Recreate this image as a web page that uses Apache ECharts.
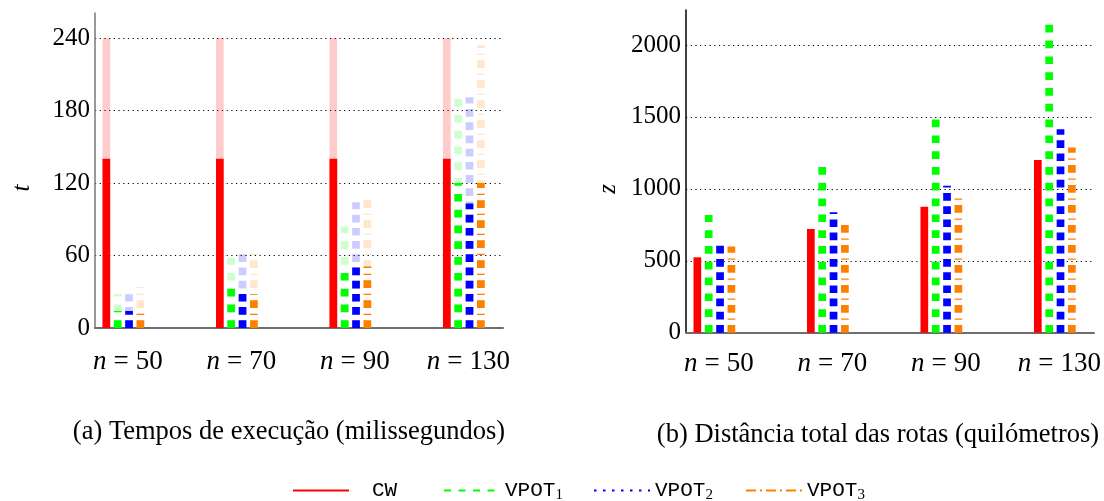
<!DOCTYPE html>
<html>
<head>
<meta charset="utf-8">
<script src="https://cdn.jsdelivr.net/npm/echarts@6/dist/echarts.min.js"></script>
<style>
  html, body { margin: 0; padding: 0; background: #ffffff; }
  #chart { width: 1104px; height: 501px; }
</style>
</head>
<body>
<div id="chart"></div>
<script>
// Instance sizes (number of customers)
const categories = ['50', '70', '90', '130'];
const methods = ['CW', 'VPOT1', 'VPOT2', 'VPOT3'];

// Execution times (ms): mean and maximum per instance size
const timeMeanCW    = [140, 140, 140, 140];
const timeMaxCW     = [240, 240, 240, 240];
const timeMeanVPOT1 = [14, 33, 47, 120];
const timeMaxVPOT1  = [28, 58, 84, 191];
const timeMeanVPOT2 = [14, 29, 50, 103];
const timeMaxVPOT2  = [28, 62, 104, 191];
const timeMeanVPOT3 = [13, 28, 51, 120];
const timeMaxVPOT3  = [34, 66, 110, 234];

// Total route distance (km) per instance size
const distCW    = [524, 721, 876, 1201];
const distVPOT1 = [818, 1161, 1495, 2158];
const distVPOT2 = [605, 837, 1022, 1414];
const distVPOT3 = [600, 784, 957, 1287];

// Tick labels
const timeTicks = [0, 60, 120, 180, 240];
const distTicks = [0, 500, 1000, 1500, 2000];

const timeMean = [timeMeanCW, timeMeanVPOT1, timeMeanVPOT2, timeMeanVPOT3];
const timeMax  = [timeMaxCW, timeMaxVPOT1, timeMaxVPOT2, timeMaxVPOT3];
const dist     = [distCW, distVPOT1, distVPOT2, distVPOT3];

// Styles per method: colour, bar dash pattern, legend dash pattern
const colors = ['#ff0000', '#00ff00', '#0000ff', '#ff8000'];
const barDash = [null, [7.7, 8.1], [7.7, 5.5], [7.7, 5.3, 1.2, 5.8]];
const legendDash = [null, [7, 7.5], [2.5, 6.5], [10, 4, 2, 4]];
const barOffset = [-0.15, -0.05, 0.05, 0.15];
const barWidth = 7.7;
const legendLeft = [292, 443, 593, 745];

const serif = '"Liberation Serif", "Times New Roman", serif';
const mono = '"Liberation Mono", "DejaVu Sans Mono", monospace';

function dashedBar(k, opacity) {
  return function (params, api) {
    const x = api.value(0) + barOffset[k];
    const p0 = api.coord([x, 0]);
    const p1 = api.coord([x, api.value(1)]);
    return {
      type: 'line',
      silent: true,
      shape: { x1: p0[0], y1: p0[1], x2: p1[0], y2: p1[1] },
      style: {
        stroke: colors[k],
        lineWidth: barWidth,
        lineDash: barDash[k],
        lineCap: 'butt',
        opacity: opacity
      }
    };
  };
}

function toPairs(values) {
  return values.map((v, i) => [i, v]);
}

const series = [];
// Panel (a): light bars up to the maximum, solid bars up to the mean
methods.forEach((m, k) => {
  series.push({
    type: 'custom', name: m + ' max', xAxisIndex: 0, yAxisIndex: 0,
    renderItem: dashedBar(k, 0.2), data: toPairs(timeMax[k]), z: 2
  });
  series.push({
    type: 'custom', name: m + ' mean', xAxisIndex: 0, yAxisIndex: 0,
    renderItem: dashedBar(k, 1), data: toPairs(timeMean[k]), z: 3
  });
});
// Panel (b): total distance
methods.forEach((m, k) => {
  series.push({
    type: 'custom', name: m + ' dist', xAxisIndex: 1, yAxisIndex: 1,
    renderItem: dashedBar(k, 1), data: toPairs(dist[k]), z: 3
  });
});
// Line entries used by the legend
methods.forEach((m, k) => {
  series.push({
    type: 'line', name: m, xAxisIndex: 0, yAxisIndex: 0, data: [],
    symbol: 'none',
    itemStyle: { color: colors[k] },
    lineStyle: { color: colors[k], width: 2.5, type: legendDash[k] || 'solid' }
  });
});

function xAxisFor(g, margin) {
  return {
    type: 'value', gridIndex: g, min: -0.25, max: 3.345,
    axisLine: { onZero: false, lineStyle: { color: '#6e6e6e', width: 2 } },
    axisTick: { show: false },
    splitLine: { show: false },
    axisLabel: {
      customValues: [0, 1, 2, 3],
      margin: margin,
      formatter: v => '{i|n}{e|=}{r|' + categories[Math.round(v)] + '}',
      rich: {
        i: { fontFamily: serif, fontStyle: 'italic', fontSize: 27, color: '#000', padding: [0, 0, 0, 9] },
        e: { fontFamily: serif, fontSize: 27, color: '#000', padding: [0, 7, 0, 7] },
        r: { fontFamily: serif, fontSize: 27, color: '#000' }
      }
    }
  };
}

function yAxisFor(g, max, interval, ticks, lineColor) {
  return {
    type: 'value', gridIndex: g, min: 0, max: max, interval: interval,
    axisLine: { show: true, onZero: false, lineStyle: { color: lineColor, width: 1.5 } },
    axisTick: { show: false },
    axisLabel: {
      customValues: ticks,
      margin: 5,
      formatter: v => String(v),
      fontFamily: serif, fontSize: 25, color: '#000'
    },
    splitLine: {
      show: true, showMinLine: false, showMaxLine: false,
      lineStyle: { color: '#000', width: 1, type: [1.2, 3.5] }
    }
  };
}

const option = {
  animation: false,
  backgroundColor: '#ffffff',
  grid: [
    { left: 95, top: 13, width: 408, height: 315 },
    { left: 686, top: 10, width: 408, height: 322.7 }
  ],
  xAxis: [xAxisFor(0, 20), xAxisFor(1, 18)],
  yAxis: [
    yAxisFor(0, 260.7, 60, timeTicks, '#777777'),
    yAxisFor(1, 2243, 500, distTicks, '#000000')
  ],
  legend: methods.map((m, k) => ({
    data: [m],
    left: legendLeft[k],
    top: 480,
    padding: 0,
    itemWidth: 56,
    itemHeight: 14,
    selectedMode: false,
    itemStyle: { color: 'transparent', borderWidth: 0, opacity: 0 },
    formatter: name => name === 'CW' ? '{c|CW}' : '{m|VPOT}{s|' + name.slice(4) + '}',
    textStyle: {
      rich: {
        c: { fontFamily: mono, fontSize: 21, color: '#000', padding: [0, 0, 0, 18] },
        m: { fontFamily: mono, fontSize: 21, color: '#000' },
        s: { fontFamily: serif, fontSize: 15, color: '#000', padding: [10, 0, 0, 0] }
      }
    }
  })),
  graphic: [
    {
      type: 'text', x: 22, y: 188, rotation: Math.PI / 2,
      style: { text: 't', fontFamily: serif, fontStyle: 'italic', fontSize: 25, fill: '#000',
               textAlign: 'center', textVerticalAlign: 'middle' }
    },
    {
      type: 'text', x: 608, y: 189, rotation: Math.PI / 2,
      style: { text: 'z', fontFamily: serif, fontStyle: 'italic', fontSize: 25, fill: '#000',
               textAlign: 'center', textVerticalAlign: 'middle' }
    },
    {
      type: 'text', x: 289, y: 432,
      style: { text: '(a) Tempos de execução (milissegundos)', fontFamily: serif, fontSize: 26.5,
               fill: '#000', textAlign: 'center', textVerticalAlign: 'middle' }
    },
    {
      type: 'text', x: 878, y: 435,
      style: { text: '(b) Distância total das rotas (quilómetros)', fontFamily: serif, fontSize: 26.5,
               fill: '#000', textAlign: 'center', textVerticalAlign: 'middle' }
    }
  ],
  series: series
};

const chart = echarts.init(document.getElementById('chart'), null, { renderer: 'canvas' });
chart.setOption(option);
</script>
</body>
</html>
